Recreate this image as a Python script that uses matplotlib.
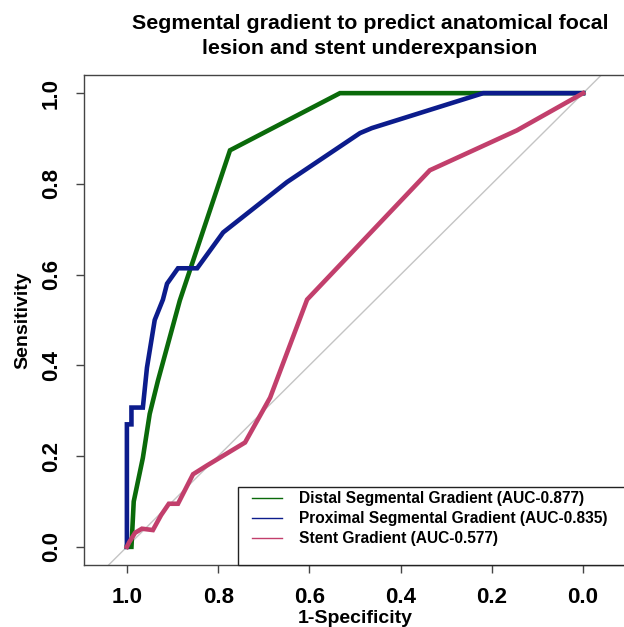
import numpy as np
import matplotlib
matplotlib.use("Agg")
import matplotlib.pyplot as plt
from matplotlib.patches import Rectangle

plt.rcParams['font.family'] = ['Liberation Sans', 'DejaVu Sans']
plt.rcParams['font.weight'] = 'bold'

## ROC points (specificity, sensitivity)
distal_spec = [1.0, 0.99, 0.985, 0.965, 0.95, 0.932, 0.884, 0.774, 0.533, 0.0]
distal_sens = [0.0, 0.0, 0.1, 0.196, 0.293, 0.366, 0.543, 0.874, 1.0, 1.0]

prox_spec = [1.0, 1.0, 0.99, 0.99, 0.965, 0.956, 0.939, 0.921, 0.912, 0.888,
             0.846, 0.789, 0.649, 0.489, 0.463, 0.219, 0.0]
prox_sens = [0.0, 0.27, 0.27, 0.307, 0.307, 0.395, 0.50, 0.545, 0.58, 0.614,
             0.614, 0.693, 0.804, 0.912, 0.923, 1.0, 1.0]

stent_spec = [1.0, 0.995, 0.982, 0.967, 0.943, 0.925, 0.908, 0.888, 0.855,
              0.825, 0.741, 0.686, 0.605, 0.336, 0.145, 0.0]
stent_sens = [0.0, 0.01, 0.031, 0.04, 0.037, 0.07, 0.095, 0.095, 0.16,
              0.179, 0.23, 0.329, 0.545, 0.83, 0.918, 1.0]

labels = ["Distal Segmental Gradient (AUC-0.877)",
          "Proximal Segmental Gradient (AUC-0.835)",
          "Stent Gradient (AUC-0.577)"]
colors = ["#0a6a0a", "#0c1c8c", "#c23f6c"]
ticks = [1.0, 0.8, 0.6, 0.4, 0.2, 0.0]

fig = plt.figure(figsize=(6.24, 6.27), dpi=100)
ax = fig.add_axes([84 / 624, 1 - 565 / 627, 542 / 624, 490 / 627])

# chance line
ax.axline((1, 0), (0, 1), color="#c4c4c4", lw=1, zorder=1)

curves = [(distal_spec, distal_sens), (prox_spec, prox_sens), (stent_spec, stent_sens)]
for (sp, se), c in zip(curves, colors):
    ax.plot(sp, se, color=c, lw=3.3, solid_joinstyle="miter", zorder=3)

ax.set_xlim(1.094, -0.094)
ax.set_ylim(-0.04, 1.04)
ax.set_xticks(ticks)
ax.set_yticks(ticks)
ax.set_xticklabels(["%.1f" % t for t in ticks], fontsize=16, fontweight="bold")
ax.set_yticklabels(["%.1f" % t for t in ticks], fontsize=16, fontweight="bold",
                   rotation=90, va="center")
ax.tick_params(axis="both", direction="out", length=6, width=1, color="#444444", pad=10)
for s in ax.spines.values():
    s.set_color("#444444")
    s.set_linewidth(1)

ax.set_xlabel("1-Specificity", fontsize=14, fontweight="bold", labelpad=1)
ax.set_ylabel("Sensitivity", fontsize=14, fontweight="bold", labelpad=7)

fig.text(370 / 624, 1 - 36 / 627, "Segmental gradient to predict anatomical focal\nlesion and stent underexpansion",
         ha="center", va="center", fontsize=15.4, fontweight="bold", linespacing=1.45)

# legend box: reaches the bottom of the plot and runs off the right edge
ax.add_patch(Rectangle(((238 - 84) / 542, 0), 0.8, (565 - 487) / 490, transform=ax.transAxes,
                       facecolor="white", edgecolor="#222222", lw=1, zorder=5, clip_on=False))
handles = [plt.Line2D([], [], color=c, lw=1) for c in colors]
leg = ax.legend(handles, labels, loc="upper left",
                bbox_to_anchor=((252 - 84) / 542, (565 - 491) / 490),
                borderaxespad=0, borderpad=0, frameon=False,
                handlelength=1.9, handletextpad=1.1, labelspacing=0.32,
                prop={"weight": "bold", "size": 11.2})
leg.set_zorder(6)

plt.savefig("out.png", dpi=100)
